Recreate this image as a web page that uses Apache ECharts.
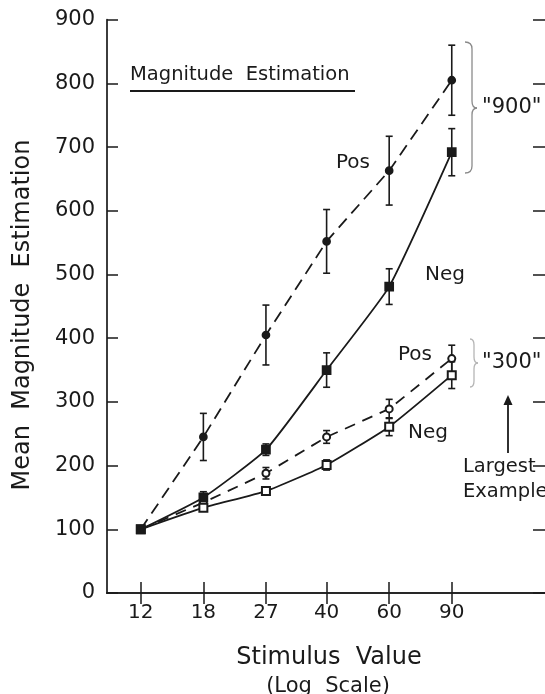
<!DOCTYPE html>
<html>
<head>
<meta charset="utf-8">
<script src="https://cdn.jsdelivr.net/npm/echarts@6/dist/echarts.min.js"></script>
<style>
  html, body { margin: 0; padding: 0; background: #ffffff; }
  #chart { width: 545px; height: 694px; }
</style>
</head>
<body>
<div id="chart"></div>
<script>
// Stimulus values (plotted on a log scale)
const stimulus = [12, 18, 27, 40, 60, 90];
const yTicks = [0, 100, 200, 300, 400, 500, 600, 700, 800, 900];

// "900" largest example
const pos900 = [100, 245, 405, 552, 663, 805];
const pos900Err = [0, 37, 47, 50, 54, 55];
const neg900 = [100, 150, 225, 350, 481, 692];
const neg900Err = [0, 9, 9, 27, 28, 37];

// "300" largest example
const pos300 = [100, 142, 188, 245, 289, 368];
const pos300Err = [0, 0, 9, 10, 15, 21];
const neg300 = [100, 134, 160, 201, 261, 342];
const neg300Err = [0, 0, 4, 8, 14, 21];

const INK = '#1a1a1a';
const FONT = 'DejaVu Sans';
const logX = stimulus.map(v => Math.log(v));
const step = Math.log(1.5);
const xMin = Math.log(stimulus[0]) - 0.54 * step;
const xMax = Math.log(stimulus[stimulus.length - 1]) + 1.49 * step;

function points(vals) {
  return vals.map((v, i) => [logX[i], v]);
}
function errData(vals, errs) {
  return vals.map((v, i) => [logX[i], v - errs[i], v + errs[i], errs[i]]);
}

function errorBars(name, vals, errs) {
  return {
    name: name + ' err',
    type: 'custom',
    z: 3,
    data: errData(vals, errs),
    renderItem: function (params, api) {
      if (api.value(3) <= 0) return null;
      const x = api.value(0);
      const lo = api.coord([x, api.value(1)]);
      const hi = api.coord([x, api.value(2)]);
      const cap = 3.5;
      const st = { stroke: INK, lineWidth: 1.6 };
      return {
        type: 'group',
        children: [
          { type: 'line', shape: { x1: lo[0], y1: lo[1], x2: hi[0], y2: hi[1] }, style: st },
          { type: 'line', shape: { x1: lo[0] - cap, y1: lo[1], x2: lo[0] + cap, y2: lo[1] }, style: st },
          { type: 'line', shape: { x1: hi[0] - cap, y1: hi[1], x2: hi[0] + cap, y2: hi[1] }, style: st }
        ]
      };
    }
  };
}

function lineSeries(name, vals, opts) {
  return Object.assign({
    name: name,
    type: 'line',
    data: points(vals),
    symbolSize: 7,
    lineStyle: { color: INK, width: 1.8 },
    itemStyle: { color: INK, borderColor: INK, borderWidth: 1.7 },
    emphasis: { disabled: true },
    z: 4
  }, opts);
}

const axisLine = { show: true, lineStyle: { color: INK, width: 1.7 } };

const chart = echarts.init(document.getElementById('chart'), null, { renderer: 'canvas' });

function txt(text, x, y, size, extra, rotation) {
  return {
    type: 'text', x: x, y: y, rotation: rotation || 0, silent: true,
    style: Object.assign({
      text: text, fontSize: size, fontFamily: FONT, fill: INK,
      textAlign: 'left', textVerticalAlign: 'middle'
    }, extra || {})
  };
}

// curly brace built from straight and curved pieces
function brace(xTip, xSpine, xPoint, yTop, yMid, yBot, color) {
  const st = { stroke: color, lineWidth: 1.3, fill: null };
  const r = Math.min(7, (yMid - yTop) / 4);
  const q = (x1, y1, cx, cy, x2, y2) => ({ type: 'bezierCurve', silent: true,
    shape: { x1: x1, y1: y1, cpx1: cx, cpy1: cy, x2: x2, y2: y2 }, style: st });
  const l = (x1, y1, x2, y2) => ({ type: 'line', silent: true,
    shape: { x1: x1, y1: y1, x2: x2, y2: y2 }, style: st });
  return [
    q(xTip, yTop, xSpine, yTop, xSpine, yTop + r),
    l(xSpine, yTop + r, xSpine, yMid - r),
    q(xSpine, yMid - r, xSpine, yMid, xPoint, yMid),
    q(xPoint, yMid, xSpine, yMid, xSpine, yMid + r),
    l(xSpine, yMid + r, xSpine, yBot - r),
    q(xSpine, yBot - r, xSpine, yBot, xTip, yBot)
  ];
}

chart.setOption({
  animation: false,
  backgroundColor: '#ffffff',
  grid: { left: 107, top: 19.7, width: 443, height: 573.3, containLabel: false },
  xAxis: [
    {
      type: 'value', position: 'bottom', min: xMin, max: xMax,
      axisLine: axisLine,
      axisTick: { show: true, inside: true, length: 11, customValues: logX,
        lineStyle: { color: INK, width: 1.5 } },
      axisLabel: { show: true, customValues: logX, margin: 10,
        formatter: v => String(Math.round(Math.exp(v))),
        fontFamily: FONT, fontSize: 20, color: INK },
      splitLine: { show: false }
    },
    {
      type: 'value', position: 'top', min: xMin, max: xMax,
      axisLine: axisLine,
      axisTick: { show: true, inside: true, length: 11, customValues: logX,
        lineStyle: { color: INK, width: 1.5 } },
      axisLabel: { show: false },
      splitLine: { show: false }
    }
  ],
  yAxis: [
    {
      type: 'value', position: 'left', min: yTicks[0], max: yTicks[yTicks.length - 1], interval: 100,
      axisLine: axisLine,
      axisTick: { show: true, inside: true, length: 11, lineStyle: { color: INK, width: 1.5 } },
      axisLabel: { show: true, margin: 12, fontFamily: FONT, fontSize: 21, color: INK },
      splitLine: { show: false }
    },
    {
      // right frame sits just beyond the canvas edge; only its inward ticks show
      type: 'value', position: 'right', min: yTicks[0], max: yTicks[yTicks.length - 1], interval: 100,
      axisLine: { show: false },
      axisTick: { show: true, inside: true, length: 12, lineStyle: { color: INK, width: 1.5 } },
      axisLabel: { show: false },
      splitLine: { show: false }
    }
  ],
  series: [
    errorBars('Pos 900', pos900, pos900Err),
    errorBars('Neg 900', neg900, neg900Err),
    errorBars('Pos 300', pos300, pos300Err),
    errorBars('Neg 300', neg300, neg300Err),
    lineSeries('Pos 300', pos300, {
      symbol: 'emptyCircle', symbolSize: 7,
      lineStyle: { color: INK, width: 1.8, type: [11, 8] }
    }),
    lineSeries('Neg 300', neg300, {
      symbol: 'emptyRect', symbolSize: 8, smooth: 0.15
    }),
    lineSeries('Pos 900', pos900, {
      symbol: 'circle', symbolSize: 7,
      lineStyle: { color: INK, width: 1.8, type: [12, 7] }
    }),
    lineSeries('Neg 900', neg900, {
      symbol: 'rect', symbolSize: 8, smooth: 0.15, z: 5
    })
  ],
  graphic: [].concat(
    [
      // panel title with underline
      txt('Magnitude  Estimation', 130, 75, 19.5),
      { type: 'line', silent: true, shape: { x1: 130, y1: 91, x2: 355, y2: 91 },
        style: { stroke: INK, lineWidth: 1.8 } },
      // axis titles
      txt('Mean  Magnitude  Estimation', 23, 315, 24, { textAlign: 'center' }, Math.PI / 2),
      txt('Stimulus  Value', 329, 658, 24, { textAlign: 'center' }),
      txt('(Log  Scale)', 328, 687, 21, { textAlign: 'center' }),
      // curve labels
      txt('Pos', 336, 163, 20),
      txt('Neg', 425, 275, 20),
      txt('Pos', 398, 355, 20),
      txt('Neg', 408, 433, 20),
      // group labels
      txt('"900"', 482, 108, 21),
      txt('"300"', 482, 363, 21),
      // arrow to "Largest Example"
      { type: 'line', silent: true, shape: { x1: 508, y1: 453, x2: 508, y2: 402 },
        style: { stroke: INK, lineWidth: 1.8 } },
      { type: 'polygon', silent: true, shape: { points: [[508, 395], [503.5, 405], [512.5, 405]] },
        style: { fill: INK } },
      txt('Largest', 463, 467, 19.5),
      txt('Example', 463, 492, 19.5)
    ],
    brace(465, 472, 477, 42, 108, 173, '#8a8a8a'),
    brace(470, 474, 478, 339, 363, 387, '#b5b5b5')
  )
});
</script>
</body>
</html>
